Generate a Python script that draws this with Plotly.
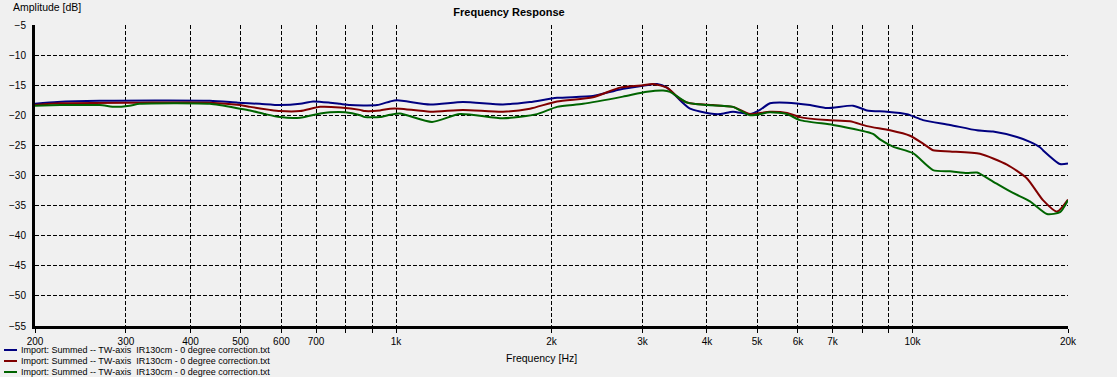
import plotly.graph_objects as go

# ---------------- data ----------------
freq_blue = [200, 221, 267, 436, 494, 545, 596, 652, 691, 745, 779, 815, 919, 974, 1004, 1164, 1348, 1611, 1817,
             2050, 2406, 2714, 3008, 3200, 3347, 3548, 3709, 4054, 4239, 4492, 4846, 5066, 5297, 5715, 6332, 6831,
             7670, 8163, 8925, 9756, 10480, 11820, 13330, 14316, 15930, 16880, 17650, 17888, 19300, 20000]
db_blue = [-18.1, -17.8, -17.6, -17.6, -17.9, -18.1, -18.3, -18.1, -17.7, -17.9, -18.1, -18.3, -18.3, -17.7, -17.5,
           -18.2, -17.8, -18.2, -17.8, -17.1, -16.8, -15.7, -15.1, -14.8, -15.4, -17.5, -18.9, -19.7, -19.8, -19.4,
           -19.8, -19.1, -18.0, -17.9, -18.3, -18.8, -18.4, -19.2, -19.4, -19.8, -20.8, -21.6, -22.5, -22.7, -23.6,
           -24.4, -25.3, -25.8, -28.1, -28.0]

freq_red = [200, 224, 319, 436, 499, 522, 570, 596, 652, 713, 779, 852, 871, 931, 974, 1018, 1164, 1348, 1611, 1817,
            2050, 2406, 2714, 3008, 3143, 3347, 3548, 3709, 4109, 4492, 4846, 5297, 5715, 6056, 6831, 7570, 8163,
            9046, 9888, 10480, 10957, 11820, 13508, 15236, 16658, 17888, 19042, 20000]
db_red = [-18.3, -18.0, -17.9, -17.9, -18.3, -18.6, -19.1, -19.3, -19.3, -18.6, -18.7, -19.1, -19.3, -19.2, -18.9,
          -18.9, -19.4, -19.1, -19.4, -18.9, -17.7, -17.0, -15.4, -15.0, -14.8, -15.4, -17.3, -18.0, -18.3, -18.6,
          -19.8, -19.4, -19.6, -20.3, -20.8, -21.0, -21.8, -22.5, -23.4, -24.7, -25.8, -26.0, -26.4, -28.2, -30.5,
          -34.1, -36.0, -34.0]

freq_green = [200, 224, 267, 286, 305, 319, 436, 499, 522, 558, 596, 652, 713, 745, 797, 852, 871, 931, 974, 1018,
              1174, 1330, 1611, 1875, 2050, 2302, 2750, 3061, 3289, 3392, 3660, 4000, 4492, 4846, 5297, 5715, 6056,
              7016, 7914, 8386, 8650, 9167, 10022, 10957, 11820, 12748, 13330, 14316, 15650, 16880, 18210, 19300,
              20000]
db_green = [-18.4, -18.3, -18.3, -18.6, -18.4, -18.1, -18.1, -18.9, -19.2, -19.8, -20.3, -20.4, -19.7, -19.5, -19.5,
            -20.0, -20.3, -20.3, -19.9, -19.7, -21.1, -19.8, -20.5, -19.8, -18.6, -18.1, -16.9, -16.1, -15.9, -16.1,
            -17.9, -18.3, -18.6, -20.0, -19.5, -19.8, -20.8, -21.6, -22.5, -23.1, -24.0, -25.2, -26.3, -29.1, -29.3,
            -29.6, -29.5, -31.0, -32.9, -34.3, -36.4, -36.1, -34.1]

series_names = ["Import: Summed -- TW-axis  IR130cm - 0 degree correction.txt",
                "Import: Summed -- TW-axis  IR130cm - 0 degree correction.txt",
                "Import: Summed -- TW-axis  IR130cm - 0 degree correction.txt"]
series_colors = ["#000080", "#800000", "#006400"]

x_tickvals = [200, 300, 400, 500, 600, 700, 800, 900, 1000, 2000, 3000, 4000, 5000, 6000, 7000, 8000, 9000,
              10000, 20000]
x_ticktext = ["200", "300", "400", "500", "600", "700", "", "", "1k", "2k", "3k", "4k", "5k", "6k", "7k", "", "",
              "10k", "20k"]
y_tickvals = [-55, -50, -45, -40, -35, -30, -25, -20, -15, -10, -5]

# ---------------- layout constants ----------------
W, H = 1117, 377
L, R, T, B = 35, 49, 25, 51
PW, PH = W - L - R, H - T - B
BG = "#f0f0f0"
FONT = "Liberation Sans"


def px_x(px):
    return (px - L) / PW


def px_y(py):
    return (H - B - py) / PH


fig = go.Figure()
for fx, fy, name, col in zip([freq_blue, freq_red, freq_green], [db_blue, db_red, db_green],
                             series_names, series_colors):
    fig.add_trace(go.Scatter(x=fx, y=fy, mode="lines", name=name,
                             line=dict(color=col, width=2, shape="spline", smoothing=0.6),
                             showlegend=False, cliponaxis=True))

shapes = []
annotations = []
for i, (name, col) in enumerate(zip(series_names, series_colors)):
    yy = px_y(350 + 11 * i)
    shapes.append(dict(type="line", xref="paper", yref="paper", x0=px_x(4), x1=px_x(17), y0=yy, y1=yy,
                       line=dict(color=col, width=2)))
    annotations.append(dict(text=name, xref="paper", yref="paper", x=px_x(19), y=yy, xanchor="left",
                            yanchor="middle", showarrow=False, font=dict(family=FONT, size=9, color="#000")))

annotations.append(dict(text="Amplitude [dB]", xref="paper", yref="paper", x=px_x(11), y=px_y(7),
                        xanchor="left", yanchor="middle", showarrow=False,
                        font=dict(family=FONT, size=10.5, color="#000")))
annotations.append(dict(text="Frequency [Hz]", xref="paper", yref="paper", x=px_x(541), y=px_y(358),
                        xanchor="center", yanchor="middle", showarrow=False,
                        font=dict(family=FONT, size=10.5, color="#000")))

fig.update_layout(
    width=W, height=H,
    margin=dict(l=L, r=R, t=T, b=B, pad=0, autoexpand=False),
    paper_bgcolor=BG, plot_bgcolor=BG,
    font=dict(family=FONT, size=10, color="#000"),
    title=dict(text="<b>Frequency Response</b>", x=509 / W, xref="container", xanchor="center",
               y=1 - 12 / H, yref="container", yanchor="middle", automargin=False,
               font=dict(family=FONT, size=11, color="#000")),
    showlegend=False,
    hovermode=False,
    shapes=shapes,
    annotations=annotations,
    xaxis=dict(type="log", range=[2.30103, 4.30103], tickvals=x_tickvals, ticktext=x_ticktext,
               automargin=False,
               showgrid=True, gridcolor="#000", gridwidth=1, griddash="4px,2px",
               showline=True, linecolor="#000", linewidth=3,
               ticks="outside", ticklen=4, tickcolor="#000", tickwidth=1,
               zeroline=False, tickfont=dict(family=FONT, size=10, color="#000")),
    yaxis=dict(range=[-55, -5], tickvals=y_tickvals, automargin=False,
               showgrid=True, gridcolor="#000", gridwidth=1, griddash="4px,2px",
               showline=True, linecolor="#000", linewidth=3,
               ticks="", zeroline=False, ticklabelstandoff=4,
               tickfont=dict(family=FONT, size=10, color="#000")),
)

fig.write_html("out.html", config={"displayModeBar": False, "staticPlot": True},
               post_script="document.body.style.margin='0';document.body.style.overflow='hidden';"
                           "document.body.style.background='#f0f0f0';")
